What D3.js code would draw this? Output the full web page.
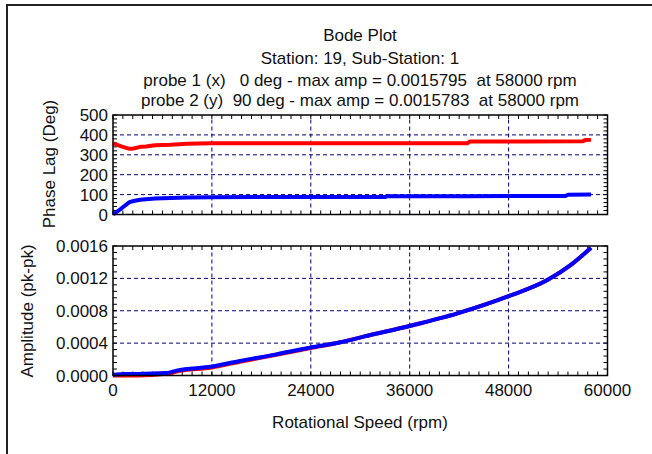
<!DOCTYPE html>
<meta charset="utf-8">
<style>

body {
  margin: 0;
  background: #fff;
}

text {
  font-family: "Liberation Sans", Arial, sans-serif;
  font-size: 17px;
  fill: #111;
  white-space: pre;
}

.grid {
  stroke: #000080;
  stroke-width: 1px;
  stroke-dasharray: 4,3;
}

.frame {
  fill: none;
  stroke: #000;
  stroke-width: 1.5px;
}

.tick {
  stroke: #000;
  stroke-width: 1px;
}

.series {
  fill: none;
  stroke-width: 4px;
  stroke-linejoin: round;
}
</style>
<svg></svg>
<script src="https://d3js.org/d3.v7.min.js"></script>
<script>

var width = 652,
    height = 454;

// title lines
var titles = [
  "Bode Plot",
  "Station: 19, Sub-Station: 1",
  "probe 1 (x)   0 deg - max amp = 0.0015795  at 58000 rpm",
  "probe 2 (y)  90 deg - max amp = 0.0015783  at 58000 rpm"
];

var speedTicks = [0, 12000, 24000, 36000, 48000, 60000];
var phaseTicks = [0, 100, 200, 300, 400, 500];
var ampTicks = [0, 0.0004, 0.0008, 0.0012, 0.0016];

// phase lag, probe 1 (red)
var phase1Rpm = [0, 1000, 2000, 2500, 3300, 4000, 5100, 7000, 9000, 12000, 24000, 36000, 43000, 43300, 50000, 57000, 57300, 58000];
var phase1Deg = [358, 342, 330, 332, 340, 342, 348, 350, 355, 358, 358, 358, 358, 367, 367, 368, 374, 375];

// phase lag, probe 2 (blue)
var phase2Rpm = [0, 1000, 2000, 2500, 3300, 4000, 5100, 7000, 9000, 12000, 24000, 33000, 33300, 43000, 50000, 54900, 55200, 58000];
var phase2Deg = [0, 30, 62, 68, 74, 77, 80, 83, 86, 87, 88, 88, 92, 92, 93, 93, 99, 100];

// amplitude
var ampRpm = [0, 1500, 3000, 6500, 7700, 12000, 15400, 19500, 24000, 27600, 30400, 36100, 41800, 48000, 52700, 55600, 58000];
var amp1 = [0, 0, 0, 0.00002, 0.00005, 0.0001, 0.00017, 0.00025, 0.00034, 0.00041, 0.00048, 0.000615, 0.000768, 0.00098, 0.00118, 0.00137, 0.0015795];
var amp2 = [0.00001, 0.00002, 0.00002, 0.00003, 0.00006, 0.00011, 0.00018, 0.000255, 0.000345, 0.00041, 0.00048, 0.000615, 0.000768, 0.00098, 0.00118, 0.00137, 0.0015783];

var svg = d3.select("svg")
    .attr("width", width)
    .attr("height", height);

svg.append("rect")
    .attr("width", width)
    .attr("height", height)
    .attr("fill", "#fff");

// outer border
svg.append("rect")
    .attr("x", 7)
    .attr("y", 5)
    .attr("width", 700)
    .attr("height", 500)
    .attr("fill", "none")
    .attr("stroke", "#222")
    .attr("stroke-width", 2);

var x = d3.scaleLinear()
    .domain([0, 60000])
    .range([113, 607.5]);

var yPhase = d3.scaleLinear()
    .domain([0, 500])
    .range([214.5, 115]);

var yAmp = d3.scaleLinear()
    .domain([0, 0.0016])
    .range([375.5, 246]);

svg.selectAll(".title")
    .data(titles)
  .enter().append("text")
    .attr("class", "title")
    .attr("x", 360)
    .attr("y", function(d, i) { return [40.5, 64, 86, 106][i]; })
    .attr("text-anchor", "middle")
    .text(function(d) { return d; });

function panel(y, yTicks, nMinor, fmt, series, curve) {
  var x0 = x.range()[0], x1 = x.range()[1],
      y0 = y.range()[0], y1 = y.range()[1];
  var g = svg.append("g");

  // dashed grid at the inner major ticks
  g.selectAll(".gx")
      .data(speedTicks.slice(1, -1))
    .enter().append("line")
      .attr("class", "grid")
      .attr("x1", x).attr("x2", x)
      .attr("y1", y0).attr("y2", y1);

  g.selectAll(".gy")
      .data(yTicks.slice(1, -1))
    .enter().append("line")
      .attr("class", "grid")
      .attr("x1", x0).attr("x2", x1)
      .attr("y1", y).attr("y2", y);

  // minor ticks on all four sides
  var xm = d3.range(0, 51).map(function(i) { return i * 1200; });
  g.selectAll(".tb")
      .data(xm)
    .enter().append("line")
      .attr("class", "tick")
      .attr("x1", x).attr("x2", x)
      .attr("y1", y0).attr("y2", y0 - 4);
  g.selectAll(".tt")
      .data(xm)
    .enter().append("line")
      .attr("class", "tick")
      .attr("x1", x).attr("x2", x)
      .attr("y1", y1).attr("y2", y1 + 4);

  var top = y.domain()[1];
  var ym = d3.range(0, nMinor + 1).map(function(i) { return top * i / nMinor; });
  g.selectAll(".tl")
      .data(ym)
    .enter().append("line")
      .attr("class", "tick")
      .attr("x1", x0).attr("x2", x0 + 4)
      .attr("y1", y).attr("y2", y);
  g.selectAll(".tr")
      .data(ym)
    .enter().append("line")
      .attr("class", "tick")
      .attr("x1", x1).attr("x2", x1 - 4)
      .attr("y1", y).attr("y2", y);

  series.forEach(function(s) {
    var pts = s.rpm.map(function(r, i) { return [r, s.val[i]]; });
    g.append("path")
        .datum(pts)
        .attr("class", "series")
        .attr("stroke", s.color)
        .attr("d", d3.line()
            .curve(curve)
            .x(function(d) { return x(d[0]); })
            .y(function(d) { return y(d[1]); }));
  });

  g.append("rect")
      .attr("class", "frame")
      .attr("x", x0)
      .attr("y", y1)
      .attr("width", x1 - x0)
      .attr("height", y0 - y1);

  g.selectAll(".yl")
      .data(yTicks)
    .enter().append("text")
      .attr("x", 108)
      .attr("y", y)
      .attr("dy", "0.36em")
      .attr("text-anchor", "end")
      .text(fmt);
}

panel(yPhase, phaseTicks, 25, d3.format("d"), [
  {rpm: phase1Rpm, val: phase1Deg, color: "#ff0000"},
  {rpm: phase2Rpm, val: phase2Deg, color: "#0000ff"}
], d3.curveLinear);

panel(yAmp, ampTicks, 20, d3.format(".4f"), [
  {rpm: ampRpm, val: amp1, color: "#ff0000"},
  {rpm: ampRpm, val: amp2, color: "#0000ff"}
], d3.curveMonotoneX);

svg.selectAll(".xl")
    .data(speedTicks)
  .enter().append("text")
    .attr("x", x)
    .attr("y", 396)
    .attr("text-anchor", "middle")
    .text(function(d) { return d; });

svg.append("text")
    .attr("x", 360)
    .attr("y", 428)
    .attr("text-anchor", "middle")
    .text("Rotational Speed (rpm)");

svg.append("text")
    .attr("transform", "translate(55,164) rotate(-90)")
    .attr("text-anchor", "middle")
    .text("Phase Lag (Deg)");

svg.append("text")
    .attr("transform", "translate(33,311) rotate(-90)")
    .attr("text-anchor", "middle")
    .text("Amplitude (pk-pk)");

</script>
